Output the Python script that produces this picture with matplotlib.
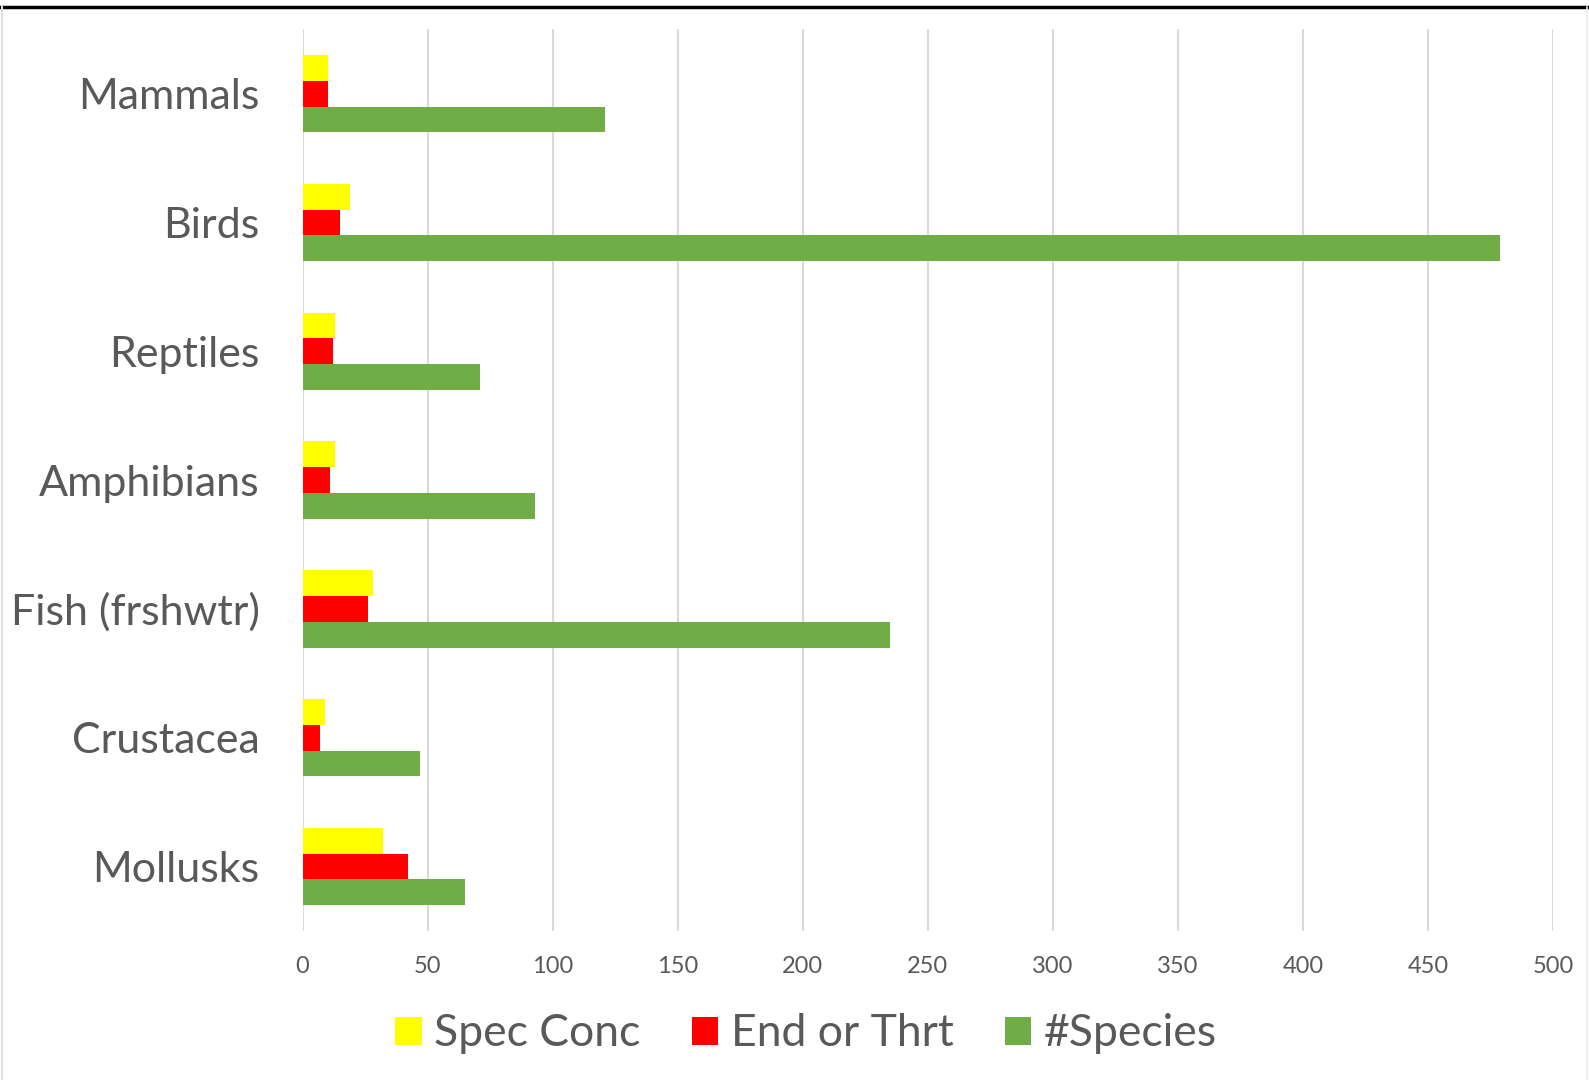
import numpy as np
import matplotlib.pyplot as plt
from matplotlib.patches import Patch
from matplotlib.lines import Line2D

# ========== DATA ==========
categories = ["Mammals", "Birds", "Reptiles", "Amphibians",
              "Fish (frshwtr)", "Crustacea", "Mollusks"]
spec_conc = [10, 19, 13, 13, 28, 9, 32]
end_or_thrt = [10, 15, 12, 11, 26, 7, 42]
n_species = [121, 479, 71, 93, 235, 47, 65]
x_ticks = [0, 50, 100, 150, 200, 250, 300, 350, 400, 450, 500]

series_names = ["Spec Conc", "End or Thrt", "#Species"]
series_colors = ["#FFFF00", "#FF0000", "#70AD47"]

TEXT_COLOR = "#595959"
GRID_COLOR = "#D9D9D9"
BAR_H = 0.2

plt.rcParams['font.family'] = ['Lato', 'DejaVu Sans']

# ========== FIGURE ==========
fig = plt.figure(figsize=(15.89, 10.80), dpi=100)
ax = fig.add_axes([0.1904, 0.138, 0.7869, 0.8349])

y = np.arange(len(categories))
for i, (vals, col) in enumerate(zip([spec_conc, end_or_thrt, n_species], series_colors)):
    ax.barh(y + (i - 1) * BAR_H, vals, height=BAR_H, color=col, zorder=3)

ax.set_ylim(len(categories) - 0.5, -0.5)
ax.set_xlim(0, 500)
ax.set_yticks(y)
ax.set_yticklabels(categories, fontsize=31, color=TEXT_COLOR)
ax.set_xticks(x_ticks)
ax.set_xticklabels([str(t) for t in x_ticks], fontsize=17, color=TEXT_COLOR)
ax.tick_params(axis='y', length=0, pad=31)
ax.tick_params(axis='x', length=0, pad=18)
ax.grid(axis='x', color=GRID_COLOR, linewidth=1.5, zorder=0)
for s in ax.spines.values():
    s.set_visible(False)

# legend
handles = [Patch(facecolor=c, edgecolor='none', label=n)
           for n, c in zip(series_names, series_colors)]
fig.legend(handles=handles, loc='center', bbox_to_anchor=(806 / 1589, 1 - 1034 / 1080),
           ncol=3, frameon=False, fontsize=32, labelcolor=TEXT_COLOR,
           handlelength=0.6, handleheight=0.6, handletextpad=0.28,
           columnspacing=1.15)

# frame lines around the picture
fig.add_artist(Line2D([0, 1], [1 - 7 / 1080, 1 - 7 / 1080], color='black', linewidth=2.5))
fig.add_artist(Line2D([1.5 / 1589, 1.5 / 1589], [0, 1 - 7 / 1080], color='#E0E0E0', linewidth=1.5))
fig.add_artist(Line2D([1 - 2 / 1589, 1 - 2 / 1589], [0, 1 - 7 / 1080], color='#EBEBEB', linewidth=1.2))

fig.savefig("out.png", dpi=100)
